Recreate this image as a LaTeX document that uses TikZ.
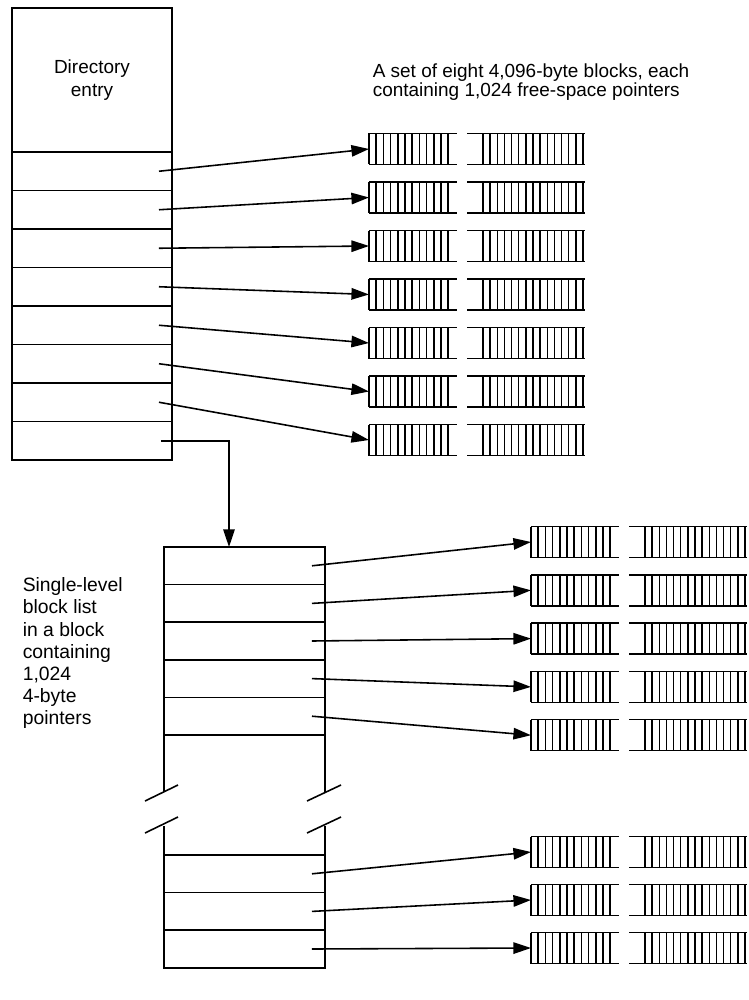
\documentclass[tikz,border=0pt]{standalone}
\usepackage{fontspec}
\setmainfont{Liberation Sans}
\usetikzlibrary{arrows.meta, positioning, calc}

\begin{document}
\begin{tikzpicture}[
  x=0.02cm, y=-0.02cm,
  line width=0.9pt,
  lbl/.style={inner sep=0pt, align=left, font=\fontsize{10.8}{10.8}\selectfont},
  head/.style={rectangle, draw, inner sep=0pt, outer sep=0pt, minimum width=3.2cm, minimum height=2.88cm, align=center, font=\fontsize{10.8}{13}\selectfont},
  slot/.style={rectangle, draw, inner sep=0pt, outer sep=0pt, minimum width=3.2cm, minimum height=0.77cm},
  lslot/.style={rectangle, draw, inner sep=0pt, outer sep=0pt, minimum width=3.22cm, minimum height=0.752cm},
  arw/.style={-{Triangle[length=10pt, width=6.5pt]}},
  cells/.pic={
    \coordinate (-in) at (0,0);
    \draw[line width=0.85pt] (0,-15.5) -- (88,-15.5) (0,15.5) -- (88,15.5);
    \foreach \k in {0,...,11} \draw[line width=0.85pt] (7.2*\k,-15.5) -- (7.2*\k,15.5);
    \draw[line width=0.85pt] (98,-15.5) -- (216,-15.5) (98,15.5) -- (216,15.5);
    \foreach \k in {0,...,14} \draw[line width=0.85pt] (114+7.14*\k,-15.5) -- (114+7.14*\k,15.5);
  },
]
  \useasboundingbox (0,0) rectangle (748,1000);

  % Directory entry
  \node[head] (dir) at (92, 80) {Directory\\entry};
  \foreach \i in {1,...,8}
    \node[slot] (r\i) at (92, {152+38.5*(\i-0.5)}) {};

  % Free-space blocks
  \node[lbl, anchor=north west] (cap) at (372, 63) {A set of eight 4,096-byte blocks, each\\containing 1,024 free-space pointers};
  \foreach \i in {1,...,7}
    \pic (b\i) at (369, {149+48.5*(\i-1)}) {cells};
  \foreach \i in {1,...,7}
    \draw[arw] ([xshift=-0.26cm]r\i.east) -- (b\i-in);

  % Block list
  \node[lbl, anchor=north west, font=\fontsize{11}{12.6}\selectfont] (lst) at (22, 577) {Single-level\\block list\\in a block\\containing\\1,024\\4-byte\\pointers};
  \foreach \i in {1,...,5}
    \node[lslot] (s\i) at (244.5, {547+37.6*(\i-0.5)}) {};
  \foreach \i in {1,...,3}
    \node[lslot] (t\i) at (244.5, {855+37.6*(\i-0.5)}) {};
  \draw[arw] ([xshift=-0.22cm]r8.east) -| ([xshift=-0.31cm]s1.north);

  % Break
  \draw (s5.south west) -- ++(0, 57);
  \draw (s5.south east) -- ++(0, 57);
  \draw (t1.north west) -- ++(0, -29);
  \draw (t1.north east) -- ++(0, -29);
  \draw (145, 801) -- (178, 785);
  \draw (145, 833) -- (178, 817);
  \draw (307, 801) -- (341, 785);
  \draw (307, 833) -- (341, 817);

  % Lower blocks
  \foreach \i in {1,...,5}
    \pic (c\i) at (531, {542+48.3*(\i-1)}) {cells};
  \foreach \i in {1,...,3}
    \pic (d\i) at (531, {852+48*(\i-1)}) {cells};
  \foreach \i in {1,...,5}
    \draw[arw] ([xshift=-0.26cm]s\i.east) -- (c\i-in);
  \foreach \i in {1,...,3}
    \draw[arw] ([xshift=-0.26cm]t\i.east) -- (d\i-in);

\end{tikzpicture}
\end{document}
